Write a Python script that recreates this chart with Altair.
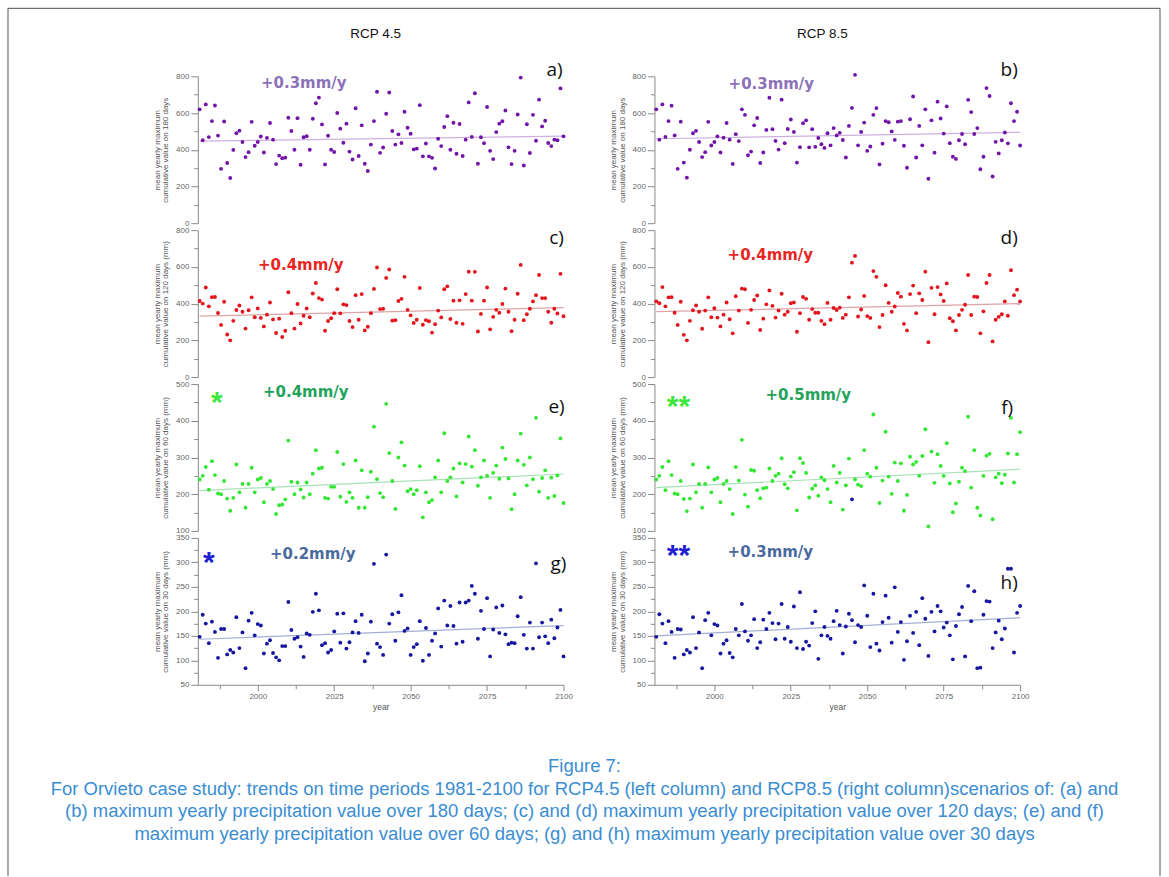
import altair as alt
import pandas as pd

years = list(range(1981, 2101))

# a) RCP4.5, 180 days
a_vals = [620, 452, 647, 469, 556, 641, 477, 296, 554, 328, 246, 399, 490, 504, 442, 360, 387, 552, 422, 442,
          472, 385, 465, 546, 455, 322, 368, 354, 357, 574, 502, 400, 572, 318, 468, 474, 400, 569, 653, 684,
          538, 320, 476, 400, 388, 600, 515, 438, 542, 390, 347, 626, 366, 533, 324, 284, 428, 556, 716, 383,
          412, 596, 712, 502, 428, 484, 437, 607, 520, 487, 402, 406, 643, 364, 434, 364, 356, 298, 460, 420,
          524, 583, 400, 547, 378, 540, 366, 455, 658, 470, 708, 324, 468, 436, 633, 394, 349, 496, 542, 555,
          614, 413, 322, 394, 592, 793, 314, 539, 382, 590, 449, 673, 527, 558, 437, 420, 455, 452, 734, 473]
# b) RCP8.5, 180 days
b_vals = [620, 455, 647, 470, 556, 640, 478, 296, 553, 330, 248, 400, 490, 503, 442, 360, 387, 552, 423, 442,
          473, 385, 466, 546, 455, 323, 485, 447, 620, 590, 370, 390, 533, 573, 328, 385, 508, 683, 512, 448,
          401, 673, 436, 513, 565, 497, 330, 414, 545, 560, 413, 512, 416, 464, 430, 410, 490, 424, 518, 478,
          492, 453, 358, 530, 628, 808, 424, 497, 548, 394, 418, 590, 627, 320, 433, 556, 550, 500, 454, 553,
          556, 422, 302, 566, 690, 358, 530, 424, 620, 242, 560, 384, 662, 570, 488, 636, 436, 362, 350, 452,
          486, 430, 672, 605, 486, 518, 294, 362, 736, 693, 254, 443, 380, 452, 494, 435, 653, 556, 607, 423]
# c) RCP4.5, 120 days
c_vals = [414, 400, 488, 385, 435, 436, 349, 284, 410, 232, 200, 306, 365, 390, 356, 264, 364, 434, 326, 374,
          322, 276, 340, 406, 314, 240, 318, 218, 252, 462, 348, 264, 398, 292, 334, 374, 326, 455, 512, 430,
          422, 252, 305, 320, 348, 478, 347, 396, 392, 305, 272, 446, 312, 452, 254, 274, 348, 480, 597, 370,
          372, 540, 586, 307, 310, 414, 426, 546, 366, 336, 295, 312, 485, 285, 310, 304, 242, 288, 362, 325,
          478, 494, 316, 416, 296, 418, 290, 452, 574, 416, 573, 248, 344, 416, 488, 260, 328, 366, 350, 398,
          482, 356, 250, 312, 454, 611, 310, 342, 372, 412, 446, 556, 430, 430, 356, 296, 372, 346, 562, 331]
# d) RCP8.5, 120 days
d_vals = [412, 402, 490, 385, 434, 435, 350, 284, 410, 230, 200, 306, 364, 390, 356, 263, 362, 434, 326, 375,
          324, 276, 340, 406, 315, 238, 440, 362, 482, 478, 295, 366, 420, 444, 256, 318, 396, 472, 388, 324,
          362, 454, 340, 356, 402, 406, 247, 348, 436, 426, 312, 370, 350, 350, 306, 288, 404, 312, 376, 365,
          378, 322, 340, 434, 623, 660, 330, 368, 442, 332, 322, 577, 546, 272, 338, 500, 404, 356, 384, 458,
          438, 290, 254, 452, 498, 348, 456, 420, 574, 190, 486, 342, 490, 450, 414, 510, 320, 304, 254, 338,
          366, 394, 556, 338, 438, 436, 238, 358, 512, 556, 194, 312, 328, 342, 412, 334, 582, 446, 476, 412]
# e) RCP4.5, 60 days
e_vals = [240, 250, 274, 212, 290, 252, 202, 200, 236, 188, 155, 190, 281, 205, 228, 163, 228, 272, 205, 240,
          244, 178, 228, 236, 214, 146, 170, 172, 186, 346, 234, 200, 232, 213, 191, 232, 200, 256, 320, 270,
          272, 190, 188, 220, 220, 315, 193, 282, 179, 205, 190, 292, 163, 265, 163, 192, 261, 384, 241, 203,
          192, 446, 312, 236, 160, 300, 341, 278, 208, 214, 200, 211, 276, 137, 205, 178, 184, 246, 292, 205,
          366, 236, 246, 270, 194, 284, 232, 282, 357, 275, 320, 223, 246, 292, 250, 190, 258, 278, 242, 327,
          296, 243, 159, 200, 292, 365, 280, 224, 300, 241, 408, 207, 244, 265, 190, 245, 195, 251, 352, 176]
# f) RCP8.5, 60 days
f_vals = [240, 250, 274, 211, 290, 252, 202, 200, 236, 187, 154, 188, 281, 205, 228, 163, 228, 273, 205, 240,
          244, 178, 228, 236, 214, 146, 274, 237, 348, 199, 166, 266, 264, 211, 189, 216, 218, 270, 236, 250,
          256, 298, 227, 216, 248, 260, 156, 298, 285, 258, 191, 215, 224, 196, 246, 238, 214, 178, 277, 232,
          258, 158, 224, 297, 186, 240, 226, 222, 320, 256, 248, 417, 272, 176, 237, 370, 248, 201, 286, 236,
          284, 155, 198, 302, 281, 288, 250, 304, 377, 112, 316, 231, 309, 277, 250, 339, 229, 151, 175, 234,
          272, 263, 411, 218, 320, 163, 142, 250, 305, 310, 132, 246, 256, 230, 253, 311, 408, 232, 309, 369]
f_odd_years = [2045]
# g) RCP4.5, 30 days
g_vals = [148, 193, 175, 135, 179, 158, 105, 164, 164, 112, 121, 116, 188, 125, 157, 84, 181, 197, 151, 174,
          171, 114, 134, 141, 115, 106, 100, 129, 129, 219, 162, 144, 147, 128, 107, 155, 152, 199, 236, 202,
          131, 135, 116, 121, 159, 195, 136, 196, 124, 137, 157, 180, 156, 193, 98, 114, 179, 297, 134, 127,
          111, 316, 175, 194, 140, 198, 233, 160, 165, 111, 127, 133, 180, 99, 166, 111, 140, 155, 206, 128,
          222, 171, 211, 170, 134, 218, 138, 218, 222, 252, 236, 144, 201, 164, 227, 108, 163, 208, 156, 212,
          153, 133, 136, 135, 190, 229, 152, 124, 177, 124, 298, 147, 177, 149, 135, 183, 145, 167, 203, 108]
# h) RCP8.5, 30 days
h_vals = [148, 194, 175, 135, 180, 158, 105, 164, 163, 112, 121, 116, 188, 125, 157, 84, 182, 197, 151, 174,
          171, 114, 134, 141, 115, 106, 164, 151, 215, 159, 140, 151, 184, 125, 137, 183, 164, 197, 176, 143,
          175, 215, 144, 168, 138, 210, 125, 239, 123, 138, 130, 176, 200, 103, 151, 168, 150, 144, 180, 201,
          172, 114, 169, 195, 182, 137, 172, 168, 253, 191, 127, 236, 134, 120, 178, 232, 187, 136, 249, 158,
          178, 101, 139, 191, 156, 199, 131, 227, 185, 109, 199, 159, 211, 200, 167, 177, 151, 102, 170, 194,
          209, 108, 252, 180, 241, 84, 85, 193, 221, 220, 125, 157, 181, 143, 165, 287, 287, 116, 197, 211]

trend_years = [1981, 2100]
trend_a = [447, 474]
trend_b = [460, 495]
trend_c = [332, 378]
trend_d = [356, 400]
trend_e = [210, 255]
trend_f = [218, 268]
trend_g = [143, 171]
trend_h = [150, 187]

rates = ["+0.3mm/y", "+0.3mm/y", "+0.4mm/y", "+0.4mm/y", "+0.4mm/y", "+0.5mm/y", "+0.2mm/y", "+0.3mm/y"]
stars = ["", "", "", "", "*", "**", "*", "**"]
letters = ["a)", "b)", "c)", "d)", "e)", "f)", "g)", "h)"]
col_titles = ["RCP 4.5", "RCP 8.5"]
y_titles = [
    ["mean yearly maximum", "cumulative value on 180 days"],
    ["mean yearly maximum", "cumulative value on 180 days"],
    ["mean yearly maximum", "cumulative value on 120 days (mm)"],
    ["mean yearly maximum", "cumulative value on 120 days (mm)"],
    ["mean yearly maximum", "cumulative value on 60 days (mm)"],
    ["mean yearly maximum", "cumulative value on 60 days (mm)"],
    ["mean yearly maximum", "cumulative value on 30 days (mm)"],
    ["mean yearly maximum", "cumulative value on 30 days (mm)"],
]
caption = ("Figure 7:\n"
           "For Orvieto case study: trends on time periods 1981-2100 for RCP4.5 (left column) and RCP8.5 (right column)scenarios of: (a) and\n"
           "(b) maximum yearly precipitation value over 180 days; (c) and (d) maximum yearly precipitation value over 120 days; (e) and (f)\n"
           "maximum yearly precipitation value over 60 days; (g) and (h) maximum yearly precipitation value over 30 days")

W, H = 366, 147

# styles
PURPLE, RED, GREEN, BLUE = "#7114A8", "#E3141B", "#33E633", "#16169E"
panels = [
    dict(vals=a_vals, trend=trend_a, dom=[0, 800], step=100, major=200, col=PURPLE, tcol="#CDB0E0",
         rcol="#8B72B8", scol=None, rate_xy=(106, 7), star_xy=None, let_xy=(357, -6)),
    dict(vals=b_vals, trend=trend_b, dom=[0, 800], step=100, major=200, col=PURPLE, tcol="#CDB0E0",
         rcol="#8B72B8", scol=None, rate_xy=(117, 8), star_xy=None, let_xy=(355, -6)),
    dict(vals=c_vals, trend=trend_c, dom=[0, 800], step=100, major=200, col=RED, tcol="#DDA3A6",
         rcol="#E8251F", scol=None, rate_xy=(103, 35), star_xy=None, let_xy=(359, 8)),
    dict(vals=d_vals, trend=trend_d, dom=[0, 800], step=100, major=200, col=RED, tcol="#DDA3A6",
         rcol="#E8251F", scol=None, rate_xy=(116, 25), star_xy=None, let_xy=(355, 8)),
    dict(vals=e_vals, trend=trend_e, dom=[100, 500], step=50, major=100, col=GREEN, tcol="#A8E2B6",
         rcol="#23A35A", scol="#3CE83C", rate_xy=(108, 8), star_xy=(19, 11), let_xy=(359, 23)),
    dict(vals=f_vals, trend=trend_f, dom=[100, 500], step=50, major=100, col=GREEN, tcol="#A8E2B6",
         rcol="#23A35A", scol="#3CE83C", rate_xy=(154, 11), star_xy=(24, 15), let_xy=(353, 24)),
    dict(vals=g_vals, trend=trend_g, dom=[50, 350], step=25, major=50, col=BLUE, tcol="#A6AED6",
         rcol="#4A6A9E", scol="#2020D0", rate_xy=(115, 16), star_xy=(11, 17), let_xy=(361, 26)),
    dict(vals=h_vals, trend=trend_h, dom=[50, 350], step=25, major=50, col=BLUE, tcol="#A6AED6",
         rcol="#4A6A9E", scol="#2020D0", rate_xy=(116, 14), star_xy=(24, 10), let_xy=(355, 45)),
]

XDOM = [1980.4, 2100]
xvals = [1987.5 + 12.5 * i for i in range(10)]


def one(text):
    return pd.DataFrame({"t": [text]})


def text_layer(text, x, y, **kw):
    return alt.Chart(one(text)).mark_text(**kw).encode(
        x=alt.value(x), y=alt.value(y), text="t:N")


charts = []
for i, p in enumerate(panels):
    bottom = i >= 6
    df = pd.DataFrame({"year": years, "value": p["vals"]})
    tdf = pd.DataFrame({"year": trend_years, "value": p["trend"]})
    yv = list(range(p["dom"][0], p["dom"][1] + 1, p["step"]))
    yaxis = alt.Axis(
        values=yv,
        labelExpr=f"datum.value % {p['major']} === 0 ? datum.label : ''",
        tickSize={"condition": {"test": f"datum.value % {p['major']} === 0", "value": 7}, "value": 4},
        title=y_titles[i], titleFontSize=8, titleLineHeight=8.5, titleColor="#555555",
        titleFontWeight="normal", titleFont="Liberation Sans", titlePadding=6,
        labelFontSize=8, labelColor="#666666", labelFont="Liberation Sans", labelPadding=2,
        domainColor="#8a8a8a", tickColor="#8a8a8a", grid=False, labelOverlap=False)
    if bottom:
        xaxis = alt.Axis(
            values=xvals, format="d",
            labelExpr="datum.value % 25 === 0 ? datum.label : ''",
            tickSize={"condition": {"test": "datum.value % 25 === 0", "value": 6}, "value": 4},
            title="year", titleFontSize=8.5, titleColor="#555555", titleFontWeight="normal",
            titleFont="Liberation Sans", titlePadding=2,
            labelFontSize=8, labelColor="#666666", labelFont="Liberation Sans", labelPadding=2,
            labelFlush=False, domainColor="#8a8a8a", tickColor="#8a8a8a", grid=False,
            labelOverlap=False)
    else:
        xaxis = None
    X = alt.X("year:Q", scale=alt.Scale(domain=XDOM, nice=False, zero=False), axis=xaxis)
    Y = alt.Y("value:Q", scale=alt.Scale(domain=p["dom"], nice=False, zero=False), axis=yaxis)

    if i == 5:
        color = alt.condition(alt.FieldOneOfPredicate(field="year", oneOf=f_odd_years),
                              alt.value(BLUE), alt.value(p["col"]))
    else:
        color = alt.value(p["col"])
    pts = alt.Chart(df).mark_circle(size=15, opacity=1).encode(x=X, y=Y, color=color)
    trend = alt.Chart(tdf).mark_line(color=p["tcol"], strokeWidth=1.2).encode(x=X, y=Y)
    layers = [trend, pts]

    rx, ry = p["rate_xy"]
    layers.append(text_layer(rates[i], rx, ry, font="DejaVu Sans", fontWeight="bold", fontSize=15,
                             color=p["rcol"], align="center", baseline="middle"))
    if stars[i]:
        sx, sy = p["star_xy"]
        layers.append(text_layer(stars[i], sx, sy + 17, font="Liberation Sans", fontWeight="bold",
                                 fontSize=30, color=p["scol"], align="center", baseline="alphabetic"))
    lx, ly = p["let_xy"]
    layers.append(text_layer(letters[i], lx, ly, font="Open Sans", fontSize=19, color="#111111",
                             align="center", baseline="middle"))
    if i < 2:
        layers.append(text_layer(col_titles[i], [178, 168][i], -42, font="Liberation Sans",
                                 fontSize=13.5, color="#111111", align="center", baseline="middle"))
    if i == 0:
        # figure frame (left, top, right edges)
        fr = one("")
        layers.append(alt.Chart(fr).mark_rule(color="#6e6e6e", strokeWidth=1.2).encode(
            x=alt.value(-190), y=alt.value(-68), y2=alt.value(800)))
        layers.append(alt.Chart(fr).mark_rule(color="#6e6e6e", strokeWidth=1.2).encode(
            x=alt.value(-190), x2=alt.value(963), y=alt.value(-68)))
        layers.append(alt.Chart(fr).mark_rule(color="#6e6e6e", strokeWidth=1.2).encode(
            x=alt.value(963), y=alt.value(-68), y2=alt.value(800)))
    if i == 6:
        layers.append(text_layer(caption, 387, 219.5, font="Liberation Sans", fontSize=18.5,
                                 lineHeight=22.5, lineBreak="\n", color="#3A8DD2",
                                 align="center", baseline="top"))
    charts.append(alt.layer(*layers).properties(width=W, height=H))

chart = alt.concat(*charts, columns=2, spacing={"row": 7, "column": 91}, bounds="flush").properties(
    padding={"left": 7, "top": 7, "right": 8, "bottom": 0},
    background="white",
).configure_view(stroke=None)

chart.save("out.html", embed_options={"renderer": "svg", "actions": False})
